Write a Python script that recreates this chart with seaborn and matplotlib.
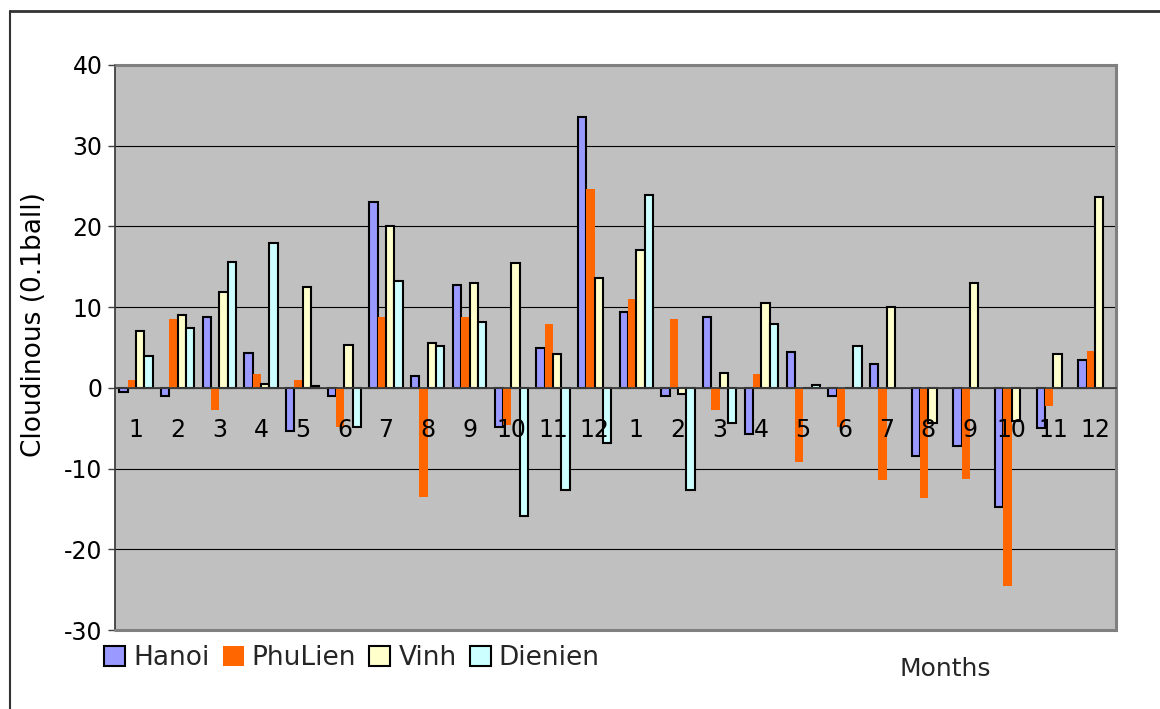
import numpy as np
import pandas as pd
import matplotlib
matplotlib.use("Agg")
import matplotlib.pyplot as plt
from matplotlib.lines import Line2D
from matplotlib.patches import Patch
import seaborn as sns

# ---- data ----
month_labels = [str(m) for m in range(1, 13)] * 2
stations = ["Hanoi", "PhuLien", "Vinh", "Dienien"]
colors = ["#9999FF", "#FF6600", "#FFFFCC", "#CCFFFF"]

hanoi = [-0.5, -1.0, 8.8, 4.3, -5.4, -1.0, 23.0, 1.5, 12.7, -4.8, 4.9, 33.5,
         9.4, -1.0, 8.8, -5.7, 4.5, -1.0, 3.0, -8.5, -7.2, -14.8, -5.0, 3.5]
phulien = [1.0, 8.5, -2.8, 1.7, 1.0, -4.8, 8.8, -13.5, 8.8, -4.6, 7.9, 24.6,
           11.0, 8.5, -2.8, 1.7, -9.2, -4.8, -11.4, -13.6, -11.3, -24.5, -2.2, 4.6]
vinh = [7.1, 9.0, 11.9, 0.5, 12.5, 5.3, 20.0, 5.5, 13.0, 15.5, 4.2, 13.6,
        17.1, -0.8, 1.9, 10.5, 0.0, 0.0, 10.0, -4.3, 13.0, -4.1, 4.2, 23.6]
dienien = [4.0, 7.4, 15.6, 17.9, 0.2, -4.8, 13.3, 5.2, 8.1, -15.9, -12.7, -6.8,
           23.9, -12.6, -4.3, 7.9, 0.3, 5.2, np.nan, np.nan, np.nan, np.nan, np.nan, np.nan]
y_ticks = [-30, -20, -10, 0, 10, 20, 30, 40]

series = {"Hanoi": hanoi, "PhuLien": phulien, "Vinh": vinh, "Dienien": dienien}
n = len(month_labels)
df = pd.DataFrame({
    "idx": np.tile(np.arange(n), len(stations)),
    "station": np.repeat(stations, n),
    "value": np.concatenate([series[s] for s in stations]),
})

sns.set_theme(style="white")
plt.rcParams["font.family"] = ["DejaVu Sans"]
plt.rcParams["axes.unicode_minus"] = False

W, H = 1160, 709
fig = plt.figure(figsize=(W / 100, H / 100), dpi=100)
fig.patch.set_facecolor("white")
ax = fig.add_axes([115 / W, 1 - 630 / H, 1001 / W, 565 / H])
ax.set_facecolor("#C0C0C0")

sns.barplot(data=df, x="idx", y="value", hue="station", order=list(range(n)),
            hue_order=stations, palette=dict(zip(stations, colors)),
            saturation=1, width=0.8, errorbar=None, legend=False, ax=ax)

for cont, s in zip(ax.containers, stations):
    for bar in cont:
        if s == "PhuLien":
            bar.set_edgecolor("none")
            bar.set_linewidth(0)
        else:
            bar.set_edgecolor("black")
            bar.set_linewidth(1.5)

ax.set_xlim(-0.5, n - 0.5)
ax.set_ylim(min(y_ticks), max(y_ticks))
ax.set_yticks(y_ticks)
ax.grid(False)
for yv in y_ticks:
    ax.axhline(yv, color="black", linewidth=0.8, zorder=0.5)
ax.set_axisbelow(False)

ax.set_xticks(range(n))
ax.set_xticklabels(month_labels)
ax.set_xticks(np.arange(-0.5, n, 1.0), minor=True)
ax.tick_params(axis="x", which="major", length=0, pad=22, labelsize=17, colors="black")
ax.tick_params(axis="x", which="minor", length=5, width=1, direction="out", color="#404040")
ax.tick_params(axis="y", which="major", left=True, length=5, width=1, direction="out",
               color="#404040", labelsize=17, labelcolor="black", pad=4)

ax.spines["bottom"].set_position(("data", 0))
ax.spines["bottom"].set_color("#404040")
ax.spines["bottom"].set_linewidth(1.3)
ax.spines["left"].set_color("#404040")
ax.spines["left"].set_linewidth(1.3)
for side in ["top", "right"]:
    ax.spines[side].set_color("#808080")
    ax.spines[side].set_linewidth(2.2)
ax.add_line(Line2D([0, 1], [0, 0], transform=ax.transAxes, color="#808080",
                   linewidth=2.2, clip_on=False, zorder=3))

ax.set_xlabel("")
ax.set_ylabel("Cloudinous (0.1ball)", fontsize=19, color="black")
ax.yaxis.set_label_coords(-0.068, 0.54)

# outer chart border
fig.add_artist(Line2D([10 / W, 1.0], [1 - 11 / H, 1 - 11 / H], color="#333333", linewidth=2))
fig.add_artist(Line2D([10 / W, 10 / W], [0.0, 1 - 11 / H], color="#333333", linewidth=1.5))

handles = [Patch(facecolor=c, edgecolor=("none" if s == "PhuLien" else "black"),
                 linewidth=(0 if s == "PhuLien" else 1.5), label=s)
           for s, c in zip(stations, colors)]
fig.legend(handles=handles, loc="center left", bbox_to_anchor=(104 / W, 1 - 658 / H),
           ncol=4, frameon=False, fontsize=19, handlelength=0.8, handleheight=0.8,
           handletextpad=0.3, columnspacing=0.5, borderpad=0, borderaxespad=0)

fig.text(945 / W, 1 - 669 / H, "Months", ha="center", va="center", fontsize=18)

fig.savefig("out.png", dpi=100, facecolor="white")
